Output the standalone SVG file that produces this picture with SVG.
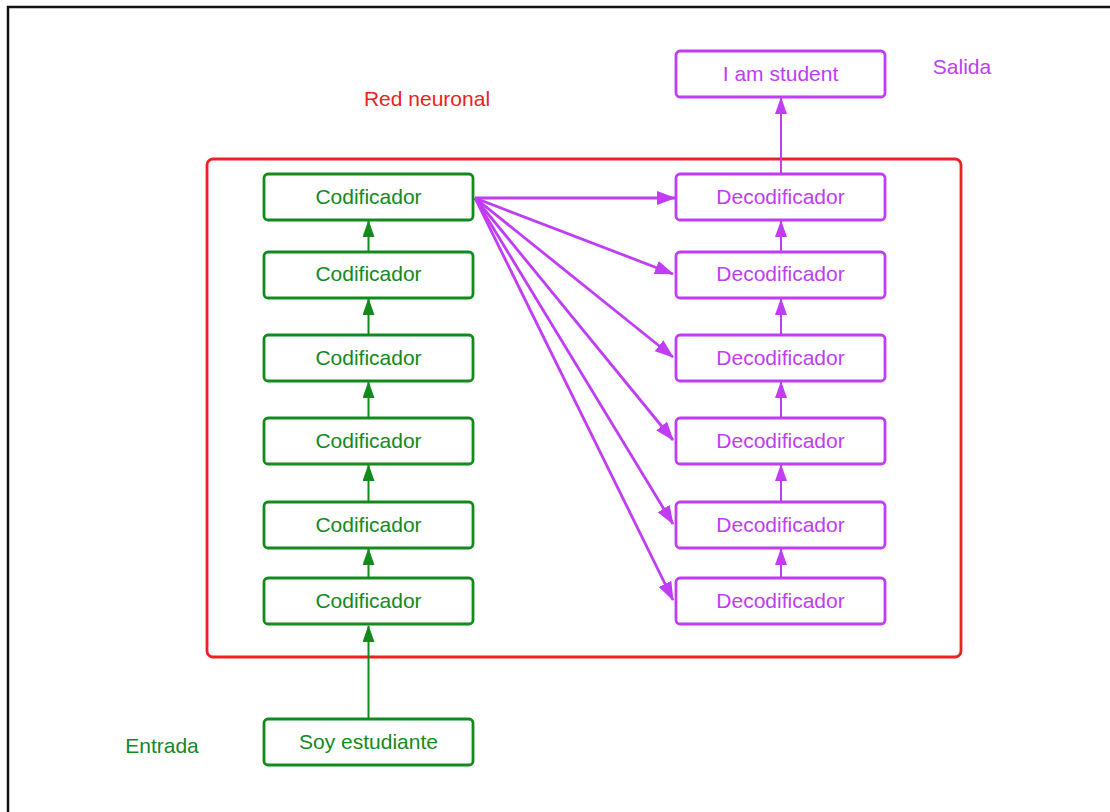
<svg xmlns="http://www.w3.org/2000/svg" width="1110" height="812" viewBox="0 0 1110 812">
  <defs>
    <style>
      .lbl { font-family: "Liberation Sans", Arial, sans-serif; font-size: 21px; }
      .enc rect { fill: #ffffff; stroke: #128a1c; stroke-width: 2.8; }
      .enc text { fill: #128a1c; text-anchor: middle; }
      .dec rect { fill: #ffffff; stroke: #c03cf5; stroke-width: 2.8; }
      .dec text { fill: #c03cf5; text-anchor: middle; }
      .gline { stroke: #128a1c; stroke-width: 2; fill: none; }
      .pline { stroke: #c03cf5; stroke-width: 2.8; fill: none; }
      .vline { stroke: #c03cf5; stroke-width: 2; fill: none; }
    </style>
    <marker id="ahG" markerUnits="userSpaceOnUse" markerWidth="17" markerHeight="12" refX="16" refY="6" orient="auto">
      <path d="M0,0 L17,6 L0,12 Z" fill="#128a1c"/>
    </marker>
    <marker id="ahV" markerUnits="userSpaceOnUse" markerWidth="17" markerHeight="12" refX="16" refY="6" orient="auto">
      <path d="M0,0 L17,6 L0,12 Z" fill="#c03cf5"/>
    </marker>
    <marker id="ahP" markerUnits="userSpaceOnUse" markerWidth="19" markerHeight="14" refX="18" refY="7" orient="auto">
      <path d="M0,0 L19,7 L0,14 Z" fill="#c03cf5"/>
    </marker>
  </defs>

  <rect x="0" y="0" width="1110" height="812" fill="#ffffff"/>
  <!-- outer frame -->
  <path d="M8,812 L8,7 L1110,7" fill="none" stroke="#111111" stroke-width="2.5"/>

  <!-- network container -->
  <g id="network">
    <rect x="207" y="159" width="754" height="498" rx="6" fill="none" stroke="#ee2024" stroke-width="2.8"/>
    <text class="lbl" x="427" y="106" fill="#ee2024" text-anchor="middle">Red neuronal</text>
  </g>

  <!-- side labels -->
  <text class="lbl" x="162" y="753" fill="#128a1c" text-anchor="middle">Entrada</text>
  <text class="lbl" x="962" y="74" fill="#c03cf5" text-anchor="middle">Salida</text>

  <!-- connectors -->
  <g id="connectors">
    <!-- encoder stack -->
    <line class="gline" x1="368.5" y1="719" x2="368.5" y2="626" marker-end="url(#ahG)"/>
    <line class="gline" x1="368.5" y1="578" x2="368.5" y2="549" marker-end="url(#ahG)"/>
    <line class="gline" x1="368.5" y1="502" x2="368.5" y2="465" marker-end="url(#ahG)"/>
    <line class="gline" x1="368.5" y1="418" x2="368.5" y2="382" marker-end="url(#ahG)"/>
    <line class="gline" x1="368.5" y1="335" x2="368.5" y2="299" marker-end="url(#ahG)"/>
    <line class="gline" x1="368.5" y1="252" x2="368.5" y2="221" marker-end="url(#ahG)"/>
    <!-- encoder to decoders -->
    <line class="pline" x1="475" y1="198" x2="675" y2="198" marker-end="url(#ahP)"/>
    <line class="pline" x1="475" y1="198" x2="673" y2="274" marker-end="url(#ahP)"/>
    <line class="pline" x1="475" y1="198" x2="673" y2="357" marker-end="url(#ahP)"/>
    <line class="pline" x1="475" y1="198" x2="673" y2="440" marker-end="url(#ahP)"/>
    <line class="pline" x1="475" y1="198" x2="673" y2="524" marker-end="url(#ahP)"/>
    <line class="pline" x1="475" y1="198" x2="673" y2="600" marker-end="url(#ahP)"/>
    <!-- decoder stack -->
    <line class="vline" x1="781" y1="578" x2="781" y2="549" marker-end="url(#ahV)"/>
    <line class="vline" x1="781" y1="502" x2="781" y2="465" marker-end="url(#ahV)"/>
    <line class="vline" x1="781" y1="418" x2="781" y2="382" marker-end="url(#ahV)"/>
    <line class="vline" x1="781" y1="335" x2="781" y2="299" marker-end="url(#ahV)"/>
    <line class="vline" x1="781" y1="252" x2="781" y2="221" marker-end="url(#ahV)"/>
    <line class="vline" x1="781" y1="175" x2="781" y2="98" marker-end="url(#ahV)"/>
  </g>

  <!-- encoders -->
  <g id="input" class="enc">
    <rect x="264" y="719" width="209" height="46" rx="4"/>
    <text class="lbl" x="368.5" y="749">Soy estudiante</text>
  </g>
  <g id="enc1" class="enc">
    <rect x="264" y="578" width="209" height="46" rx="4"/>
    <text class="lbl" x="368.5" y="608">Codificador</text>
  </g>
  <g id="enc2" class="enc">
    <rect x="264" y="502" width="209" height="46" rx="4"/>
    <text class="lbl" x="368.5" y="532">Codificador</text>
  </g>
  <g id="enc3" class="enc">
    <rect x="264" y="418" width="209" height="46" rx="4"/>
    <text class="lbl" x="368.5" y="448">Codificador</text>
  </g>
  <g id="enc4" class="enc">
    <rect x="264" y="335" width="209" height="46" rx="4"/>
    <text class="lbl" x="368.5" y="365">Codificador</text>
  </g>
  <g id="enc5" class="enc">
    <rect x="264" y="252" width="209" height="46" rx="4"/>
    <text class="lbl" x="368.5" y="281">Codificador</text>
  </g>
  <g id="enc6" class="enc">
    <rect x="264" y="174" width="209" height="46" rx="4"/>
    <text class="lbl" x="368.5" y="204">Codificador</text>
  </g>

  <!-- decoders -->
  <g id="dec1" class="dec">
    <rect x="676" y="578" width="209" height="46" rx="4"/>
    <text class="lbl" x="780.5" y="608">Decodificador</text>
  </g>
  <g id="dec2" class="dec">
    <rect x="676" y="502" width="209" height="46" rx="4"/>
    <text class="lbl" x="780.5" y="532">Decodificador</text>
  </g>
  <g id="dec3" class="dec">
    <rect x="676" y="418" width="209" height="46" rx="4"/>
    <text class="lbl" x="780.5" y="448">Decodificador</text>
  </g>
  <g id="dec4" class="dec">
    <rect x="676" y="335" width="209" height="46" rx="4"/>
    <text class="lbl" x="780.5" y="365">Decodificador</text>
  </g>
  <g id="dec5" class="dec">
    <rect x="676" y="252" width="209" height="46" rx="4"/>
    <text class="lbl" x="780.5" y="281">Decodificador</text>
  </g>
  <g id="dec6" class="dec">
    <rect x="676" y="174" width="209" height="46" rx="4"/>
    <text class="lbl" x="780.5" y="204">Decodificador</text>
  </g>
  <g id="output" class="dec">
    <rect x="676" y="51" width="209" height="46" rx="4"/>
    <text class="lbl" x="780.5" y="81">I am student</text>
  </g>
</svg>
